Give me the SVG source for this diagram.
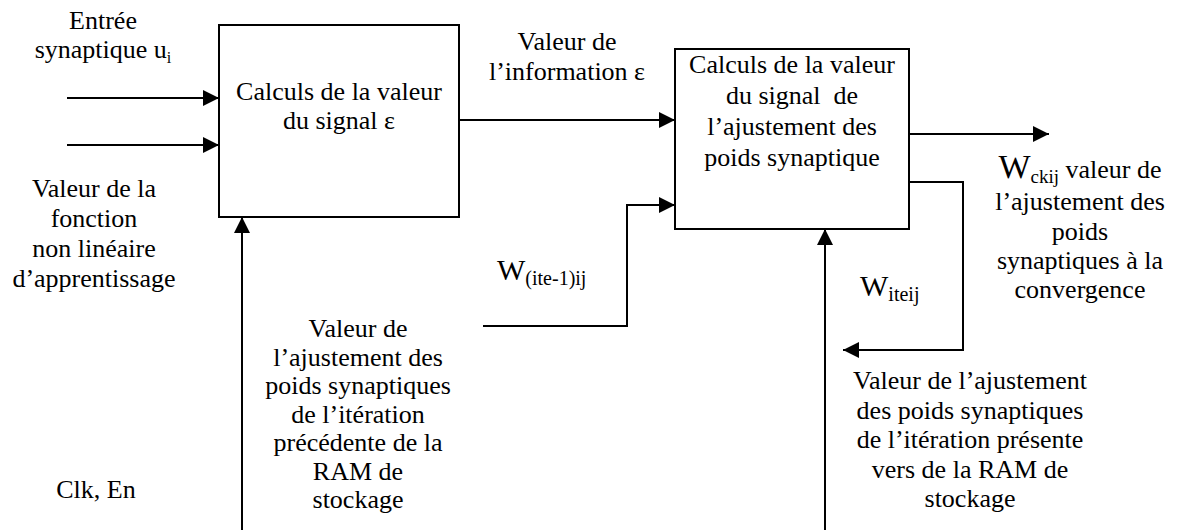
<svg xmlns="http://www.w3.org/2000/svg" width="1183" height="530" viewBox="0 0 1183 530">
  <style>
    .box { fill: #ffffff; stroke: #000000; stroke-width: 2; }
    .wire { fill: none; stroke: #000000; stroke-width: 2; }
    .t { font-size: 26px; text-anchor: middle; }
    .w { font-size: 30px; }
    .sub { font-size: 20px; }
  </style>
  <defs>
    <marker id="arrow" viewBox="0 0 16 16" refX="16" refY="8" markerWidth="16" markerHeight="16" markerUnits="userSpaceOnUse" orient="auto">
      <path d="M0,0 L16,8 L0,16 Z" fill="#000000"/>
    </marker>
  </defs>

  <rect width="1183" height="530" fill="#ffffff"/>

  <!-- connectors -->
  <g id="connectors">
    <path class="wire" d="M67,98 H219" marker-end="url(#arrow)"/>
    <path class="wire" d="M67,145 H219" marker-end="url(#arrow)"/>
    <path class="wire" d="M459,120 H675" marker-end="url(#arrow)"/>
    <path class="wire" d="M483,326 H627 V205 H675" marker-end="url(#arrow)"/>
    <path class="wire" d="M242,530 V217" marker-end="url(#arrow)"/>
    <path class="wire" d="M825,530 V229" marker-end="url(#arrow)"/>
    <path class="wire" d="M909,134 H1049" marker-end="url(#arrow)"/>
    <path class="wire" d="M909,182 H963 V350 H843" marker-end="url(#arrow)"/>
  </g>

  <g font-family="Liberation Serif" fill="#000000">
  <!-- block: error signal computation -->
  <g id="calc-epsilon">
    <rect class="box" x="219" y="25" width="240" height="192"/>
    <text class="t" x="339" y="100">Calculs de la valeur</text>
    <text class="t" x="339" y="129">du signal ε</text>
  </g>

  <!-- block: weight adjustment computation -->
  <g id="calc-weights">
    <rect class="box" x="675" y="49" width="234" height="180"/>
    <text class="t" x="792" y="73">Calculs de la valeur</text>
    <text class="t" x="792" y="104" xml:space="preserve">du signal  de</text>
    <text class="t" x="792" y="135">l’ajustement des</text>
    <text class="t" x="792" y="166">poids synaptique</text>
  </g>

  <!-- inputs -->
  <g id="label-input">
    <text class="t" x="103" y="29">Entrée</text>
    <text class="t" x="103" y="58">synaptique u<tspan font-size="16" dy="5">i</tspan></text>
  </g>
  <g id="label-activation">
    <text class="t" x="94" y="197">Valeur de la</text>
    <text class="t" x="94" y="227">fonction</text>
    <text class="t" x="94" y="257">non linéaire</text>
    <text class="t" x="94" y="287">d’apprentissage</text>
  </g>
  <g id="label-clk">
    <text class="t" x="96" y="498">Clk, En</text>
  </g>

  <!-- intermediate signal -->
  <g id="label-epsilon">
    <text class="t" x="567" y="50">Valeur de</text>
    <text class="t" x="567" y="80">l’information ε</text>
  </g>

  <!-- previous weights from RAM -->
  <g id="label-w-prev">
    <text class="w" x="497" y="280">W<tspan class="sub" dy="5">(ite-1)ij</tspan></text>
  </g>
  <g id="label-prev-desc">
    <text class="t" x="358" y="337">Valeur de</text>
    <text class="t" x="358" y="365.5">l’ajustement des</text>
    <text class="t" x="358" y="394">poids synaptiques</text>
    <text class="t" x="358" y="422.5">de l’itération</text>
    <text class="t" x="358" y="451">précédente de la</text>
    <text class="t" x="358" y="479.5">RAM de</text>
    <text class="t" x="358" y="508">stockage</text>
  </g>

  <!-- outputs -->
  <g id="label-w-conv">
    <text class="t" x="1080" y="178"><tspan font-size="34">W</tspan><tspan font-size="19" dy="5">ckij</tspan><tspan dy="-5"> valeur de</tspan></text>
    <text class="t" x="1080" y="210">l’ajustement des</text>
    <text class="t" x="1080" y="240">poids</text>
    <text class="t" x="1080" y="269">synaptiques à la</text>
    <text class="t" x="1080" y="298">convergence</text>
  </g>
  <g id="label-w-cur">
    <text class="w" x="860" y="296">W<tspan class="sub" dy="5">iteij</tspan></text>
  </g>
  <g id="label-cur-desc">
    <text class="t" x="970" y="389">Valeur de l’ajustement</text>
    <text class="t" x="970" y="418.5">des poids synaptiques</text>
    <text class="t" x="970" y="448">de l’itération présente</text>
    <text class="t" x="970" y="477.5">vers de la RAM de</text>
    <text class="t" x="970" y="507">stockage</text>
  </g>
  </g>
</svg>
